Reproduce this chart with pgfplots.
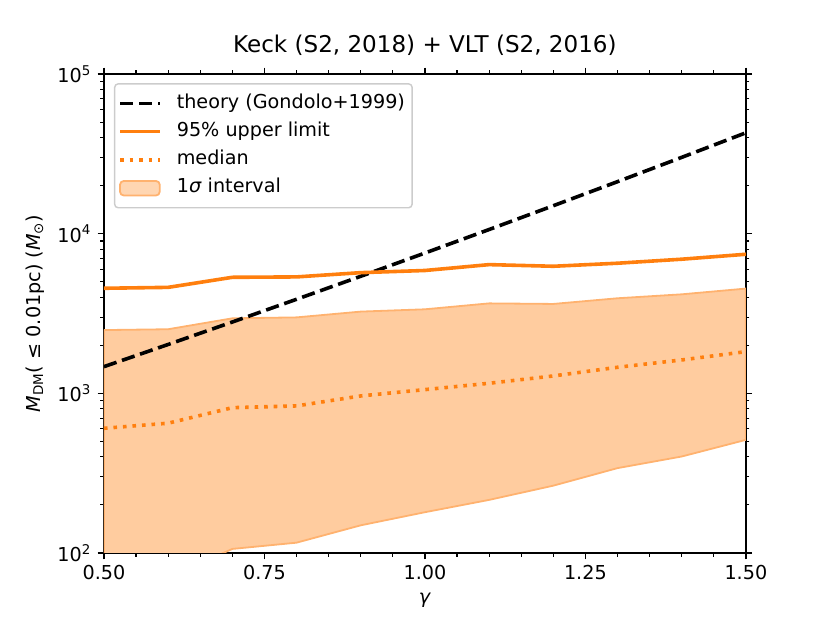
\documentclass[border=0pt]{standalone}
\usepackage{fontspec}
\setmainfont{DejaVu Sans}
\usepackage{pgfplots}
\pgfplotsset{compat=1.18}
\definecolor{tabor}{HTML}{FF7F0E}
\definecolor{bandfill}{HTML}{FFCC9F}
\definecolor{bandedge}{HTML}{FFB26F}
\pgfplotsset{
  linelegend/.style={legend image code/.code={\draw[##1] (0pt,0pt) -- (22pt,0pt);}},
  bandlegend/.style={legend image code/.code={\draw[##1] (0pt,-4pt) rectangle (22pt,4pt);}},
}
\begin{document}
\begin{tikzpicture}
\useasboundingbox (-57.7pt,-38.9pt) rectangle (403.1pt,307.0pt);
\begin{axis}[
  at={(0,0)}, anchor=south west, scale only axis,
  width=356.4pt, height=265.9pt,
  ymode=log, xmin=0.5, xmax=1.5, ymin=100, ymax=100000,
  xtick={0.5,0.75,1,1.25,1.5},
  xticklabels={0.50,0.75,1.00,1.25,1.50},
  minor xtick={0.55,0.6,0.65,0.7,0.8,0.85,0.9,0.95,1.05,1.1,1.15,1.2,1.3,1.35,1.4,1.45},
  ytick={100,1000,10000,100000},
  yticklabels={10\textsuperscript{2},10\textsuperscript{3},10\textsuperscript{4},10\textsuperscript{5}},
  minor ytick={200,300,400,500,600,700,800,900,2000,3000,4000,5000,6000,7000,8000,9000,20000,30000,40000,50000,60000,70000,80000,90000},
  tick align=outside,
  major tick length=3.5pt, minor tick length=2pt,
  major tick style={line width=0.8pt, black},
  minor tick style={line width=0.6pt, black},
  axis line style={line width=0.8pt},
  /pgf/number format/assume math mode=true,
  tick label style={font=\fontsize{10.65}{12.8}\selectfont},
  title={Keck (S2, 2018) + VLT (S2, 2016)},
  title style={at={(axis description cs:0.5,1.023)}, anchor=base, font=\fontsize{12.8}{15}\selectfont, inner sep=0pt},
  xlabel={\textit{γ}},
  xlabel style={at={(axis description cs:0.5,-0.1065)}, anchor=base, inner sep=0pt, font=\fontsize{10.65}{12.8}\selectfont},
  ylabel={\textit{M}\textsubscript{DM}( ≤ 0.01pc) (\textit{M}\textsubscript{⊙})},
  ylabel style={at={(axis description cs:-0.1075,0.5)}, anchor=center, inner sep=0pt, font=\fontsize{10.65}{12.8}\selectfont},
  legend style={at={(axis description cs:0.0156,0.981)}, anchor=north west,
    draw=black!20, line width=0.8pt, rounded corners=2pt, fill=white, fill opacity=0.8, text opacity=1,
    inner xsep=2pt, inner ysep=3.5pt, row sep=1pt, column sep=6.5pt,
    font=\fontsize{10.65}{12.8}\selectfont,
    nodes={inner sep=2pt, text height=8pt, text depth=2.7pt},
    cells={anchor=west}},
  linelegend,
]
% 1 sigma band (upper then lower reversed)
\addplot[forget plot, fill=bandfill, draw=bandedge, line width=1pt] coordinates {
  (0.5,2490) (0.6,2520) (0.7,2950) (0.8,2990) (0.9,3250) (1.0,3360)
  (1.1,3660) (1.2,3630) (1.3,3940) (1.4,4170) (1.5,4530)
  (1.5,511) (1.4,402) (1.3,340) (1.2,264) (1.1,215) (1.0,180)
  (0.9,149) (0.8,116) (0.7,106) (0.6,70) (0.5,55)
} -- cycle;
\addplot[black, line width=2pt, dash pattern=on 7.4pt off 3.2pt] coordinates {
  (0.5,1469) (0.6,2023) (0.7,2797) (0.8,3882) (0.9,5408) (1.0,7563)
  (1.1,10617) (1.2,14962) (1.3,21170) (1.4,30060) (1.5,42850)
};
\addlegendentry{theory (Gondolo+1999)}
\addplot[tabor, line width=2pt] coordinates {
  (0.5,4550) (0.6,4610) (0.7,5330) (0.8,5360) (0.9,5700) (1.0,5880)
  (1.1,6400) (1.2,6250) (1.3,6530) (1.4,6920) (1.5,7430)
};
\addlegendentry{95\% upper limit}
\addplot[tabor, line width=2pt, dash pattern=on 2pt off 3.3pt] coordinates {
  (0.5,604) (0.6,650) (0.7,813) (0.8,834) (0.9,963) (1.0,1055)
  (1.1,1156) (1.2,1285) (1.3,1456) (1.4,1618) (1.5,1825)
};
\addlegendentry{median}
\addlegendimage{bandlegend, fill=bandfill, draw=bandedge, line width=1pt}
\addlegendentry{1\textit{σ} interval}
\end{axis}
\end{tikzpicture}
\end{document}
